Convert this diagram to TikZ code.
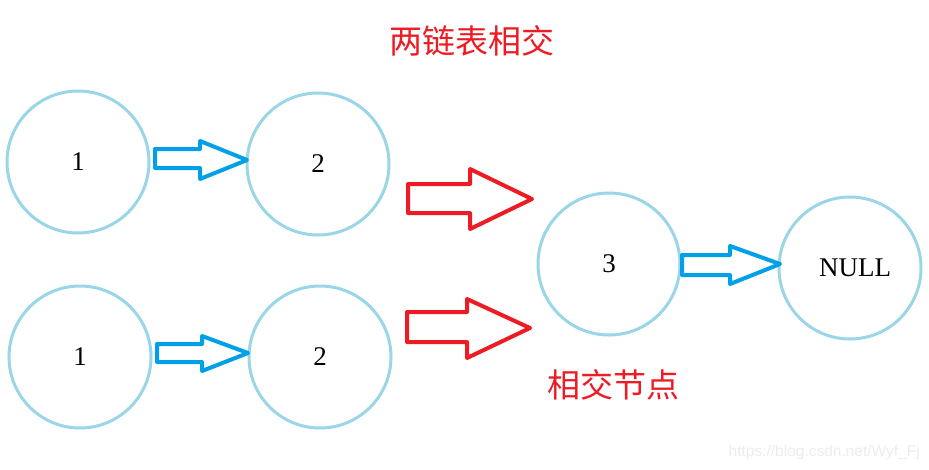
\documentclass[tikz,border=0pt]{standalone}
\usepackage{fontspec}
\setmainfont{Liberation Serif}
\newfontfamily\cjk{Noto Sans CJK SC}
\newfontfamily\wmfont{Liberation Sans}
\definecolor{ringblue}{HTML}{9AD6E8}
\definecolor{arrowblue}{HTML}{00A0E9}
\definecolor{arrowred}{HTML}{ED1C24}
\definecolor{wmgray}{HTML}{EDEDED}
\tikzset{
  ring/.style={circle,draw=ringblue,line width=3pt,minimum size=142pt,inner sep=0pt,font=\fontsize{27}{29}\selectfont},
  bluearr/.style={draw=arrowblue,line width=4pt,line join=round},
  redarr/.style={draw=arrowred,line width=4pt,line join=round},
  title/.style={text=arrowred,font=\cjk\fontsize{33}{36}\selectfont,inner sep=0pt},
}
\begin{document}
\begin{tikzpicture}[x=1pt,y=-1pt]
\useasboundingbox[fill=white] (0,0) rectangle (929,469);
% nodes
\node[ring] (a1) at (78,162) {1};
\node[ring] (a2) at (318,164) {2};
\node[ring] (b1) at (80,357) {1};
\node[ring] (b2) at (320,357) {2};
\node[ring] (c3) at (609,264) {3};
\node[ring] (nl) at (850,268) {\hspace*{10pt}NULL};
% blue block arrows
\draw[bluearr] (155,149) -- (200,149) -- (200,141) -- (247,160) -- (200,179) -- (200,168) -- (155,168) -- cycle;
\draw[bluearr] (157,344) -- (202,344) -- (202,336) -- (248,353) -- (202,371) -- (202,362) -- (157,362) -- cycle;
\draw[bluearr] (682,255) -- (730,255) -- (730,246) -- (780,264) -- (730,284) -- (730,275) -- (682,275) -- cycle;
% red block arrows
\draw[redarr] (408,184) -- (470,184) -- (470,169) -- (532,199) -- (470,229) -- (470,213) -- (408,213) -- cycle;
\draw[redarr] (407,312) -- (467,312) -- (467,299) -- (530,328) -- (467,358) -- (467,342) -- (407,342) -- cycle;
% labels
\node[title] (t1) at (472,41) {两链表相交};
\node[title] (t2) at (613,385) {相交节点};
\node[text=wmgray,font=\wmfont\fontsize{15.5}{17}\selectfont,anchor=east,inner sep=0pt] (wm) at (920,452) {https://blog.csdn.net/Wyf\_Fj};
\end{tikzpicture}
\end{document}
